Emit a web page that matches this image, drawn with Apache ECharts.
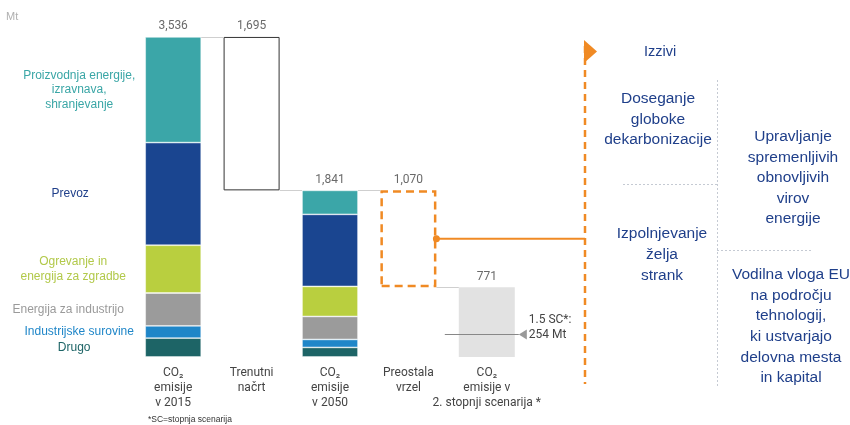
<!DOCTYPE html>
<html><head><meta charset="utf-8">
<script src="https://cdn.jsdelivr.net/npm/echarts@6/dist/echarts.min.js"></script>
<style>html,body{margin:0;padding:0;background:#fff}#c{width:850px;height:425px}</style>
</head><body><div id="c"></div>
<script>
// ---- data ----
const categories = ['CO₂\nemisije\nv 2015', 'Trenutni\nnačrt', 'CO₂\nemisije\nv 2050', 'Preostala\nvrzel', 'CO₂\nemisije v\n2. stopnji scenarija *'];
const sectors = ['Drugo', 'Industrijske surovine', 'Energija za industrijo', 'Ogrevanje in\nenergija za zgradbe', 'Prevoz', 'Proizvodnja energije,\nizravnava,\nshranjevanje'];
const emissions2015 = [209, 135, 363, 528, 1134, 1167];
const emissions2050 = [106, 88, 254, 332, 796, 265];
const currentPlan = 1695;
const remainingGap = 1070;
const scenario2 = 771;
const scenario15 = 254;
const totals = [3536, 1695, 1841, 1070, 771];

// ---- styles ----
const sectorColors = ['#1d6466', '#1f86c8', '#9b9b9b', '#b9cf3f', '#1a4590', '#3ba6a8'];
const sectorTextColors = ['#1d6466', '#1f86c8', '#9a9a9a', '#b2c94a', '#1f3f8a', '#3aa6a6'];
const labelOffsets = [-71, -66, -77, -72, -75, -66];
const ORANGE = '#f08a24';
const FONT = 'Liberation Sans, Arial, sans-serif';

const chart = echarts.init(document.getElementById('c'));
const base = [0, emissions2050.reduce((a, b) => a + b, 0), 0, scenario2, 0];
const tops = [totals[0], base[1] + currentPlan, totals[2], base[3] + remainingGap, scenario2];

const series = [{
  name: 'base', type: 'bar', stack: 't', data: base, barWidth: 56,
  itemStyle: { color: 'transparent' }, silent: true
}];
sectors.forEach((s, i) => {
  series.push({
    name: s, type: 'bar', stack: 't', barWidth: 56,
    itemStyle: { color: sectorColors[i], borderColor: 'rgba(255,255,255,0.55)', borderWidth: 0.8 },
    data: [{
      value: emissions2015[i],
      label: {
        show: true, position: [labelOffsets[i], '50%'], align: 'center', verticalAlign: 'middle',
        formatter: s, color: sectorTextColors[i], fontSize: 12, lineHeight: 14.5, fontFamily: FONT
      }
    }, '-', emissions2050[i], '-', '-']
  });
});
series.push({
  name: 'plan', type: 'bar', stack: 't', barWidth: 56,
  data: ['-', currentPlan, '-', '-', '-'],
  itemStyle: { color: '#fff', borderColor: '#333', borderWidth: 1 }
});
series.push({
  name: 'gap', type: 'bar', stack: 't', barWidth: 56,
  data: ['-', '-', '-', remainingGap, '-'],
  itemStyle: { color: 'transparent', borderColor: ORANGE, borderWidth: 2.5, borderType: [8, 5] }
});
series.push({
  name: 'scenario', type: 'bar', stack: 't', barWidth: 56,
  data: ['-', '-', '-', '-', scenario2],
  itemStyle: { color: '#e2e2e2' }
});
series.push({
  name: 'totals', type: 'scatter', symbolSize: 1, itemStyle: { color: 'transparent' },
  data: tops,
  label: {
    show: true, position: 'top', distance: 4,
    formatter: p => totals[p.dataIndex].toLocaleString('en-US'),
    color: '#444', fontSize: 12, fontFamily: 'Roboto, sans-serif'
  }
});

chart.setOption({
  animation: false,
  grid: { left: 134, width: 392, top: 4, bottom: 68 },
  xAxis: {
    type: 'category', data: categories,
    axisLine: { show: false }, axisTick: { show: false },
    axisLabel: { interval: 0, color: '#444', fontSize: 12, lineHeight: 15, margin: 8, fontFamily: 'Roboto, sans-serif' }
  },
  yAxis: { type: 'value', min: 0, max: 3900, show: false, splitLine: { show: false } },
  series: series
});

// ---- annotations ----
const half = 28;
const px = (i, v) => chart.convertToPixel({ xAxisIndex: 0, yAxisIndex: 0 }, [i, v]);
const g = [];
function hline(x1, x2, y, color, w, dash) {
  g.push({ type: 'line', z: 100, shape: { x1, y1: y, x2, y2: y }, style: { stroke: color, lineWidth: w, lineDash: dash || null }, silent: true });
}
function vline(x, y1, y2, color, w, dash) {
  g.push({ type: 'line', z: 100, shape: { x1: x, y1, x2: x, y2 }, style: { stroke: color, lineWidth: w, lineDash: dash || null }, silent: true });
}
function text(x, y, t, opts) {
  g.push({ type: 'text', z: 100, x, y, silent: true, style: Object.assign({ text: t, fontFamily: FONT, fontSize: 15.5, fill: '#1f3f8a', align: 'center', verticalAlign: 'middle' }, opts || {}) });
}
// connectors
const conn = [[0, tops[0]], [1, base[1]], [2, tops[2]], [3, base[3]]];
conn.forEach(([i, v]) => {
  const a = px(i, v), b = px(i + 1, v);
  hline(a[0] + half, b[0] - half, Math.round(a[1]) + 0.5, '#cfcfcf', 1);
});
// orange link from gap
const midGap = px(3, base[3] + remainingGap / 2);
const xDash = 585;
hline(midGap[0] + half, xDash, midGap[1], ORANGE, 2);
g.push({ type: 'circle', z: 100, shape: { cx: midGap[0] + half, cy: midGap[1], r: 3.5 }, style: { fill: ORANGE }, silent: true });
vline(xDash, 46, 384, ORANGE, 2.5, [7, 5]);
g.push({ type: 'polygon', z: 100, shape: { points: [[xDash - 1, 40], [xDash + 12, 51.5], [xDash - 1, 63]] }, style: { fill: ORANGE }, silent: true });

// 1.5 scenario marker
const s15 = px(4, scenario15);
hline(s15[0] - 42, s15[0] + 32, Math.round(s15[1]) + 0.5, '#888', 1);
g.push({ type: 'polygon', z: 100, shape: { points: [[s15[0] + 32, s15[1] + 0.5], [s15[0] + 40, s15[1] - 4.5], [s15[0] + 40, s15[1] + 5.5]] }, style: { fill: '#999' }, silent: true });
text(s15[0] + 42, s15[1] - 14, '1.5 SC*:', { align: 'left', fill: '#444', fontSize: 12, fontFamily: 'Roboto, sans-serif' });
text(s15[0] + 42, s15[1] + 1, scenario15 + ' Mt', { align: 'left', fill: '#444', fontSize: 12, fontFamily: 'Roboto, sans-serif' });

// misc texts
text(6, 17, 'Mt', { align: 'left', fill: '#b0b0b0', fontSize: 11 });
text(148, 420, '*SC=stopnja scenarija', { align: 'left', fill: '#333', fontSize: 8.5 });

// right panel
text(644, 52, 'Izzivi', { align: 'left', fontSize: 14.5 });
vline(717.5, 80, 387, '#c5cad3', 1, [2, 2]);
hline(623, 717, 184.5, '#c5cad3', 1, [2, 2]);
hline(717, 813, 250.5, '#c5cad3', 1, [2, 2]);
text(658, 119.5, 'Doseganje\ngloboke\ndekarbonizacije', { lineHeight: 20.5 });
text(793, 178, 'Upravljanje\nspremenljivih\nobnovljivih\nvirov\nenergije', { lineHeight: 20.5 });
text(662, 255, 'Izpolnjevanje\nželja\nstrank', { lineHeight: 21 });
text(791, 326.5, 'Vodilna vloga EU\nna področju\ntehnologij,\nki ustvarjajo\ndelovna mesta\nin kapital', { lineHeight: 20.6 });

chart.setOption({ graphic: g });
</script></body></html>
